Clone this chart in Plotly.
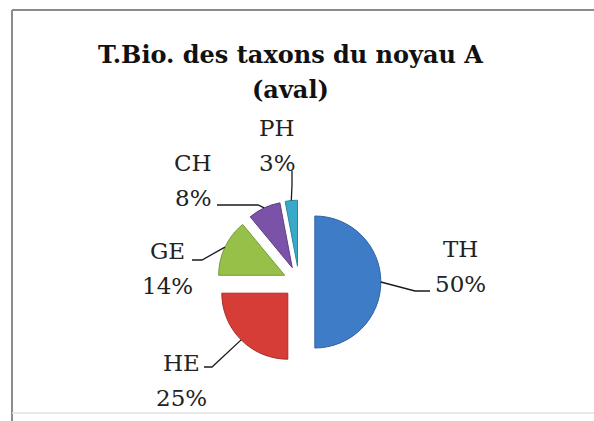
import math
import plotly.graph_objects as go

# Biological types of the taxa (core group A, downstream)
categories = ["TH", "HE", "GE", "CH", "PH"]
values = [50, 25, 14, 8, 3]
colors = ["#3f7cc8", "#d53d36", "#96c048", "#7a52a8", "#38a9c9"]
edges = ["#30629f", "#a82d28", "#76993a", "#5f3f85", "#2b86a0"]

title_lines = ["T.Bio. des taxons du noyau A", "(aval)"]

W, H = 594, 421
PULL = 0.24
# pie placement in pixels (centre and radius of the unpulled pie)
CX, CY, R = 299, 282, 66
half = R * (1 + PULL)
dom_x = [(CX - half) / W, (CX + half) / W]
dom_y = [(H - CY - half) / H, (H - CY + half) / H]

fig = go.Figure(go.Pie(
    labels=categories,
    values=values,
    sort=False,
    direction="clockwise",
    rotation=0,
    pull=[PULL] * len(values),
    marker=dict(colors=colors, line=dict(color=edges, width=1)),
    textinfo="none",
    hoverinfo="label+percent",
    domain=dict(x=dom_x, y=dom_y),
    showlegend=False,
))

# label layout: text centre, then leader knee and leader end (pixels)
label_layout = {
    "TH": dict(text=(460, 266), knee=(415, 291), end=(430, 291)),
    "HE": dict(text=(181, 380), knee=(212, 367), end=(204, 367)),
    "GE": dict(text=(167, 268), knee=(202, 260), end=(192, 260)),
    "CH": dict(text=(193, 180), knee=(258, 205), end=(217, 205)),
    "PH": dict(text=(277, 145), knee=(292, 185), end=(292, 171)),
}
LINE_GAP = 35
LABEL_FONT = dict(family="DejaVu Serif", size=23, color="#222222")

px = lambda x: x / W
py = lambda y: 1 - y / H

total = sum(values)
start = 0.0
shapes = []
annotations = []
for cat, v in zip(categories, values):
    frac = v / total
    theta = 2 * math.pi * (start + frac / 2)
    start += frac
    # outer edge of the pulled slice along its bisector
    ex = CX + (1 + PULL) * R * math.sin(theta)
    ey = CY - (1 + PULL) * R * math.cos(theta)
    lay = label_layout[cat]
    kx, ky = lay["knee"]
    nx, ny = lay["end"]
    shapes.append(dict(
        type="path", xref="paper", yref="paper",
        path=f"M {px(ex)} {py(ey)} L {px(kx)} {py(ky)} L {px(nx)} {py(ny)}",
        line=dict(color="#1a1a1a", width=1.3),
    ))
    tx, ty = lay["text"]
    for line, dy in ((cat, -LINE_GAP / 2), (f"{round(frac * 100)}%", LINE_GAP / 2)):
        annotations.append(dict(
            x=px(tx), y=py(ty + dy), xref="paper", yref="paper",
            text=line, showarrow=False, xanchor="center", yanchor="middle",
            font=LABEL_FONT,
        ))

# two-line chart title
for line, y in zip(title_lines, (55, 89)):
    annotations.append(dict(
        x=px(290), y=py(y), xref="paper", yref="paper",
        text=f"<b>{line}</b>", showarrow=False,
        xanchor="center", yanchor="middle",
        font=dict(family="DejaVu Serif", size=24, color="#111111"),
    ))

# chart frame
shapes += [
    dict(type="line", xref="paper", yref="paper", x0=px(12), x1=1, y0=py(10), y1=py(10),
         line=dict(color="#8c8c8c", width=2)),
    dict(type="line", xref="paper", yref="paper", x0=px(12), x1=px(12), y0=py(10), y1=0,
         line=dict(color="#8c8c8c", width=2)),
    dict(type="line", xref="paper", yref="paper", x0=px(12), x1=1, y0=py(413), y1=py(413),
         line=dict(color="#e2e2e2", width=1.5)),
]

fig.update_layout(
    width=W, height=H,
    margin=dict(l=0, r=0, t=0, b=0),
    paper_bgcolor="white",
    plot_bgcolor="white",
    shapes=shapes,
    annotations=annotations,
)

fig.write_html("out.html")
